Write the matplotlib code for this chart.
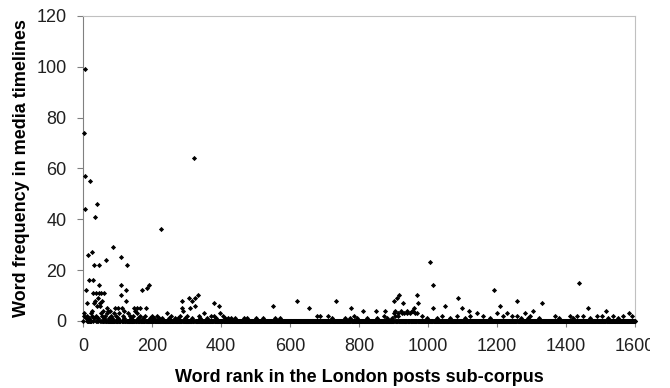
import numpy as np
import matplotlib.pyplot as plt
from matplotlib.transforms import Bbox

plt.rcParams['font.family'] = ['Liberation Sans', 'DejaVu Sans']

n_words = 1600  # ranks 1..1600, most words never appear in the timelines (freq 0)

# words with non-zero frequency
nz_rank = [2, 3, 4, 5, 6, 7, 8, 9, 10, 12, 15, 16, 17, 20, 22, 25, 26, 27, 28, 30,
           31, 32, 33, 34, 35, 37, 38, 40, 41, 42, 43, 45, 46, 47, 48, 50, 51, 53, 55, 56,
           58, 60, 61, 64, 67, 68, 70, 72, 75, 78, 80, 85, 86, 90, 93, 95, 100, 102, 105, 109,
           110, 111, 112, 115, 118, 120, 123, 125, 127, 130, 135, 140, 145, 149, 150, 155, 157, 160, 165, 166,
           170, 175, 180, 182, 185, 190, 195, 200, 205, 214, 220, 225, 230, 243, 250, 255, 265, 275, 280, 286,
           288, 291, 295, 300, 308, 310, 315, 317, 322, 324, 325, 333, 335, 340, 349, 360, 370, 378, 380, 385,
           393, 397, 405, 410, 420, 430, 440, 465, 474, 500, 520, 549, 557, 571, 621, 654, 677, 687, 711, 721,
           733, 760, 774, 776, 784, 793, 812, 822, 848, 851, 871, 876, 880, 895, 900, 902, 904, 905, 909, 912,
           914, 917, 920, 924, 927, 930, 938, 940, 948, 953, 955, 960, 962, 967, 968, 972, 982, 996, 1005, 1013,
           1015, 1025, 1040, 1050, 1064, 1083, 1087, 1097, 1107, 1118, 1122, 1141, 1160, 1180, 1190, 1199, 1209, 1218, 1228, 1243,
           1257, 1258, 1270, 1281, 1290, 1296, 1304, 1320, 1331, 1368, 1380, 1412, 1420, 1431, 1437, 1450, 1464, 1470, 1489, 1503,
           1516, 1520, 1537, 1550, 1566, 1581, 1590]
nz_freq = [2, 74, 3, 57, 99, 44, 1, 12, 7, 2, 26, 16, 1, 55, 3, 4, 2, 27, 16, 11,
           7, 22, 1, 41, 8, 11, 2, 46, 6, 9, 1, 22, 11, 14, 6, 7, 3, 11, 8, 2,
           4, 1, 11, 2, 24, 5, 3, 4, 1, 4, 2, 1, 29, 3, 5, 2, 1, 5, 3, 10,
           14, 25, 5, 2, 4, 1, 12, 8, 22, 3, 2, 1, 2, 5, 4, 3, 5, 1, 2, 5,
           12, 1, 2, 5, 13, 14, 1, 2, 1, 2, 1, 36, 1, 3, 1, 2, 1, 1, 2, 8,
           5, 4, 1, 2, 9, 5, 1, 8, 64, 9, 6, 10, 2, 1, 3, 1, 2, 7, 2, 1,
           6, 3, 2, 1, 1, 1, 1, 1, 1, 1, 1, 6, 1, 1, 8, 5, 2, 2, 2, 1,
           8, 1, 1, 5, 2, 1, 4, 1, 4, 1, 2, 4, 1, 1, 3, 8, 2, 4, 9, 3,
           2, 10, 4, 3, 7, 3, 3, 4, 3, 4, 4, 5, 3, 3, 10, 7, 2, 1, 23, 14,
           5, 1, 2, 6, 1, 2, 9, 5, 1, 4, 2, 3, 2, 1, 12, 3, 6, 2, 3, 2,
           2, 8, 1, 3, 1, 2, 4, 1, 7, 2, 1, 2, 1, 2, 15, 2, 5, 1, 2, 2,
           4, 1, 2, 1, 2, 3, 2]

x_ticks = [0, 200, 400, 600, 800, 1000, 1200, 1400, 1600]
y_ticks = [0, 20, 40, 60, 80, 100, 120]

ranks = np.arange(1, n_words + 1)
freq = np.zeros(n_words)
freq[np.array(nz_rank) - 1] = nz_freq

fig = plt.figure(figsize=(6.7, 3.88), dpi=100)
ax = fig.add_axes([0.124, 0.173, 0.824, 0.786])

ax.scatter(ranks, freq, marker='D', s=7, color='black', linewidths=0,
           clip_on=False, zorder=3)

ax.set_xlim(0, 1600)
ax.set_ylim(0, 120)
ax.set_xticks(x_ticks)
ax.set_yticks(y_ticks)

for side in ['left', 'bottom']:
    ax.spines[side].set_color('#808080')
for side in ['top', 'right']:
    ax.spines[side].set_color('#c0c0c0')

ax.tick_params(axis='x', direction='out', length=4, color='#808080',
               labelsize=13, pad=8, labelcolor='#202020')
ax.tick_params(axis='y', direction='out', length=4, color='#808080',
               labelsize=13, pad=8, labelcolor='#202020')

ax.set_xlabel('Word rank in the London posts sub-corpus', fontsize=13,
              fontweight='bold', va='center')
ax.set_ylabel('Word frequency in media timelines', fontsize=13,
              fontweight='bold', va='center')
ax.xaxis.set_label_coords(0.5, -0.187)
ax.yaxis.set_label_coords(-0.112, 0.5)

# the last tick label is cut off at the chart edge in the original
fig.canvas.draw()
for lab in ax.get_xticklabels():
    lab.set_clip_box(Bbox.from_extents(0, 0, 650, 388))
    lab.set_clip_on(True)

fig.savefig('out.png', dpi=100)
